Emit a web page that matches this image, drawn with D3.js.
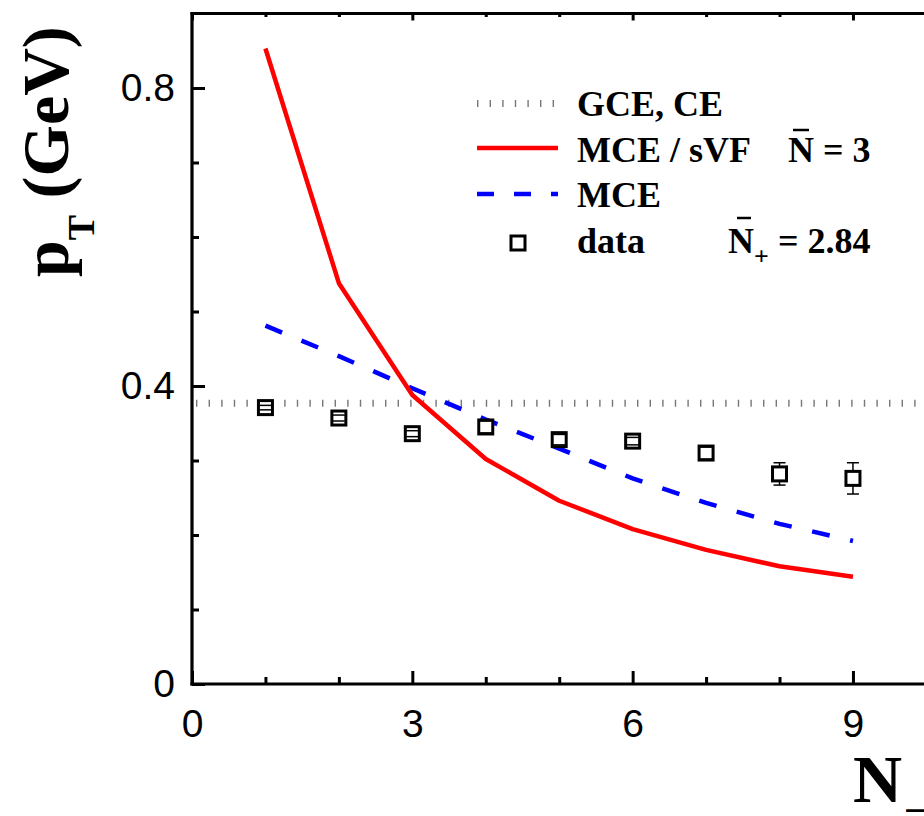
<!DOCTYPE html>
<html>
<head>
<meta charset="utf-8">
<script src="https://cdn.jsdelivr.net/npm/d3@7"></script>
<style>
  body { margin: 0; background: #fff; }
  svg { display: block; }
</style>
</head>
<body>
<svg id="chart" width="924" height="816"></svg>
<script>
// multiplicity N_- (x) and mean pT (GeV)
var nValues = [1, 2, 3, 4, 5, 6, 7, 8, 9];
var mceSvf = [0.853, 0.538, 0.388, 0.302, 0.246, 0.208, 0.180, 0.158, 0.144];
var mce = [0.481, 0.440, 0.397, 0.355, 0.316, 0.276, 0.243, 0.215, 0.192];
var dataPt = [0.371, 0.357, 0.336, 0.345, 0.328, 0.326, 0.310, 0.282, 0.276];
var dataErr = [0.003, 0.004, 0.004, 0.008, 0.007, 0.005, 0.008, 0.015, 0.021];
var gce = 0.377;

var xMajor = [0, 3, 6, 9];
var xMinor = [1, 2, 4, 5, 7, 8, 10, 11];
var yMajor = [0, 0.4, 0.8];
var yMinor = [0.1, 0.2, 0.3, 0.5, 0.6, 0.7];

var svg = d3.select("#chart");

var x = d3.scaleLinear().domain([0, 12]).range([192, 192 + 12 * 73.44]);
var y = d3.scaleLinear().domain([0, 0.9]).range([684, 13.5]);

var tickFont = "'Liberation Sans', Arial, sans-serif";
var serif = "'Liberation Serif', 'Times New Roman', serif";

// grey dotted GCE, CE line
svg.append("line")
  .attr("x1", x(0) + 4).attr("x2", x(12))
  .attr("y1", y(gce)).attr("y2", y(gce))
  .attr("stroke", "#777")
  .attr("stroke-width", 7)
  .attr("stroke-dasharray", "1.4,11.2");

var line = d3.line()
  .x(function(d, i) { return x(nValues[i]); })
  .y(function(d) { return y(d); });

svg.append("path")
  .datum(mce)
  .attr("d", line)
  .attr("fill", "none")
  .attr("stroke", "#0000ff")
  .attr("stroke-width", 4.5)
  .attr("stroke-dasharray", "18,21");

svg.append("path")
  .datum(mceSvf)
  .attr("d", line)
  .attr("fill", "none")
  .attr("stroke", "#ff0000")
  .attr("stroke-width", 4.5)
  .attr("stroke-linejoin", "round");

// data points with error bars
var pts = svg.append("g").selectAll("g")
  .data(dataPt)
  .join("g");

pts.append("line")
  .attr("x1", function(d, i) { return x(nValues[i]); })
  .attr("x2", function(d, i) { return x(nValues[i]); })
  .attr("y1", function(d, i) { return y(d + dataErr[i]); })
  .attr("y2", function(d, i) { return y(d - dataErr[i]); })
  .attr("stroke", "#000").attr("stroke-width", 1.5);

pts.append("rect")
  .attr("x", function(d, i) { return x(nValues[i]) - 7; })
  .attr("y", function(d) { return y(d) - 7; })
  .attr("width", 14).attr("height", 14)
  .attr("fill", "#fff")
  .attr("stroke", "#000").attr("stroke-width", 3);

[1, -1].forEach(function(s) {
  pts.append("line")
    .attr("x1", function(d, i) { return x(nValues[i]) - 6; })
    .attr("x2", function(d, i) { return x(nValues[i]) + 6; })
    .attr("y1", function(d, i) { return y(d + s * dataErr[i]); })
    .attr("y2", function(d, i) { return y(d + s * dataErr[i]); })
    .attr("stroke", "#000").attr("stroke-width", 1.5);
});

// axes
function styleAxis(g) {
  g.select(".domain").remove();
  g.selectAll("line").attr("stroke", "#000").attr("stroke-width", 3);
  g.selectAll("text").attr("font-family", tickFont).attr("font-size", 39).attr("fill", "#000");
}

svg.append("g").attr("transform", "translate(0,684)")
  .call(d3.axisBottom(x).tickValues(xMinor).tickSize(-7).tickFormat(""))
  .call(styleAxis);
svg.append("g").attr("transform", "translate(0,684)")
  .call(d3.axisBottom(x).tickValues(xMajor).tickSize(-13).tickPadding(25).tickFormat(d3.format("d")))
  .call(styleAxis);

svg.append("g").attr("transform", "translate(0,13.5)")
  .call(d3.axisTop(x).tickValues(xMinor).tickSize(-3.5).tickFormat(""))
  .call(styleAxis);
svg.append("g").attr("transform", "translate(0,13.5)")
  .call(d3.axisTop(x).tickValues(xMajor).tickSize(-7).tickFormat(""))
  .call(styleAxis);

svg.append("g").attr("transform", "translate(192,0)")
  .call(d3.axisLeft(y).tickValues(yMinor).tickSize(-7).tickFormat(""))
  .call(styleAxis);
svg.append("g").attr("transform", "translate(192,0)")
  .call(d3.axisLeft(y).tickValues(yMajor).tickSize(-13).tickPadding(17)
    .tickFormat(function(d) { return d === 0 ? "0" : d3.format(".1f")(d); }))
  .call(styleAxis);

// frame lines
svg.append("line").attr("x1", 192).attr("x2", 192).attr("y1", 12).attr("y2", 685.5)
  .attr("stroke", "#000").attr("stroke-width", 3.2);
svg.append("line").attr("x1", 190.5).attr("x2", x(12)).attr("y1", 684).attr("y2", 684)
  .attr("stroke", "#000").attr("stroke-width", 3.2);
svg.append("line").attr("x1", 190.5).attr("x2", x(12)).attr("y1", 13.5).attr("y2", 13.5)
  .attr("stroke", "#000").attr("stroke-width", 3.2);

// axis titles
var yt = svg.append("text")
  .attr("transform", "translate(68,277) rotate(-90)")
  .attr("font-family", serif).attr("font-weight", "bold").attr("font-size", 66);
yt.append("tspan").text("p");
yt.append("tspan").attr("font-size", 38).attr("dy", 26).text("T");
yt.append("tspan").attr("dy", -26).text(" (GeV)");

svg.append("text")
  .attr("x", 853).attr("y", 802)
  .attr("font-family", serif).attr("font-weight", "bold").attr("font-size", 68)
  .text("N");
svg.append("text")
  .attr("x", 904).attr("y", 824)
  .attr("font-family", serif).attr("font-weight", "bold").attr("font-size", 40)
  .text("\u2212");

// legend
var leg = svg.append("g")
  .attr("font-family", serif).attr("font-weight", "bold").attr("font-size", 36);

leg.append("line").attr("x1", 477).attr("x2", 558).attr("y1", 103.5).attr("y2", 103.5)
  .attr("stroke", "#777").attr("stroke-width", 7).attr("stroke-dasharray", "1.4,11.2");
leg.append("text").attr("x", 577).attr("y", 116).text("GCE, CE");

leg.append("line").attr("x1", 477).attr("x2", 558).attr("y1", 148).attr("y2", 148)
  .attr("stroke", "#ff0000").attr("stroke-width", 4.5);
leg.append("text").attr("x", 577).attr("y", 162).text("MCE / sVF");
leg.append("text").attr("x", 788).attr("y", 162).text("N = 3");
leg.append("line").attr("x1", 793).attr("x2", 809).attr("y1", 130).attr("y2", 130)
  .attr("stroke", "#000").attr("stroke-width", 2.5);

leg.append("line").attr("x1", 477).attr("x2", 558).attr("y1", 194).attr("y2", 194)
  .attr("stroke", "#0000ff").attr("stroke-width", 4.5).attr("stroke-dasharray", "17,20");
leg.append("text").attr("x", 577).attr("y", 207).text("MCE");

leg.append("rect").attr("x", 511).attr("y", 236).attr("width", 14).attr("height", 14)
  .attr("fill", "#fff").attr("stroke", "#000").attr("stroke-width", 3);
leg.append("text").attr("x", 577).attr("y", 253).text("data");
var nPlus = leg.append("text").attr("x", 728).attr("y", 253);
nPlus.append("tspan").text("N");
nPlus.append("tspan").attr("font-size", 26).attr("dy", 12).text("+");
nPlus.append("tspan").attr("x", 778).attr("dy", -12).text("= 2.84");
leg.append("line").attr("x1", 737).attr("x2", 751).attr("y1", 218).attr("y2", 218)
  .attr("stroke", "#000").attr("stroke-width", 2.5);
</script>
</body>
</html>
